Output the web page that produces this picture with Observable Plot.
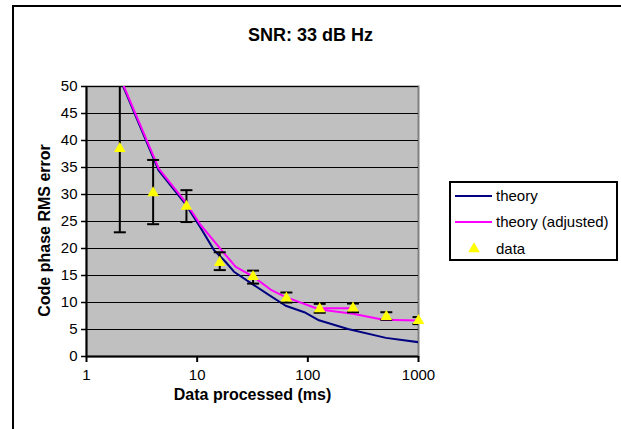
<!DOCTYPE html>
<html><head><meta charset="utf-8">
<script src="https://cdn.jsdelivr.net/npm/d3@7"></script>
<script src="https://cdn.jsdelivr.net/npm/@observablehq/plot@0.6"></script>
<style>
body{margin:0;background:#fff;font-family:"Liberation Sans",Arial,sans-serif;}
#wrap{position:relative;width:621px;height:429px;overflow:hidden;background:#fff;}
#wrap svg.main{position:absolute;left:0;top:0;}
#frame{position:absolute;left:12px;top:5px;width:640px;height:460px;border-top:2px solid #000;border-left:2px solid #000;}
#title{position:absolute;left:0;width:621px;top:25px;text-align:center;font-weight:bold;font-size:18px;color:#000;}
#legend{position:absolute;left:449px;top:181px;}
</style></head>
<body>
<div id="wrap"><div id="frame"></div><div id="title">SNR: 33 dB Hz</div><div id="legend"></div></div>
<script>
// ---- data ----
const dataX    = [2, 4, 8, 16, 32, 64, 128, 256, 512, 1000];
const dataY    = [38.5, 30.3, 27.8, 17.4, 14.8, 10.8, 8.8, 8.95, 7.4, 6.65];
const dataLow  = [23.0, 24.5, 24.9, 16.0, 13.5, 10.0, 8.1, 8.2, 6.8, 6.0];
const dataHigh = [54.0, 36.4, 30.8, 19.3, 15.9, 11.85, 9.75, 9.8, 8.2, 7.3];

const theoryX = [2, 4.5, 7.85, 10.7, 14.2, 18.1, 21.5, 31.6, 43, 63, 93, 126, 230, 508, 1000];
const theoryY = [51.5, 34.4, 28.2, 23.9, 19.7, 17.5, 15.7, 13.4, 11.6, 9.4, 8.2, 6.7, 5.1, 3.45, 2.65];

const adjX = [2, 4.5, 7.85, 10.7, 16.9, 22.3, 31.6, 46, 63, 128, 256, 480, 1000];
const adjY = [51.8, 34.8, 28.6, 24.4, 19.5, 16.6, 14.9, 12.4, 11.0, 8.7, 7.9, 6.8, 6.67];
const adjStepX = [128, 256];
const adjStepY = [8.95, 8.95];

const yTicks = [0, 5, 10, 15, 20, 25, 30, 35, 40, 45, 50];
const xTicks = [1, 10, 100, 1000];

const seriesNames = ["theory", "theory (adjusted)", "data"];
const seriesColors = ["#000080", "#FF00FF", "#FFFF00"];

// ---- tables ----
const points = dataX.map((x, i) => ({x, y: dataY[i], lo: dataLow[i], hi: dataHigh[i]}));
const theory = theoryX.map((x, i) => ({x, y: theoryY[i]}));
const adj = [
  ...adjX.map((x, i) => ({x, y: adjY[i], seg: "a"})),
  ...adjStepX.map((x, i) => ({x, y: adjStepY[i], seg: "b"}))
];

const capSymbol = {draw(ctx) { ctx.moveTo(-6, 0); ctx.lineTo(6, 0); }};

const chart = Plot.plot({
  width: 621, height: 429,
  marginLeft: 86, marginRight: 203, marginTop: 86, marginBottom: 73,
  style: {fontFamily: "'Liberation Sans', Arial, sans-serif", fontSize: "15px", color: "#000", background: "transparent", overflow: "visible"},
  x: {type: "log", domain: [1, 1000]},
  y: {domain: [0, 50]},
  marks: [
    Plot.frame({fill: "#C0C0C0", stroke: "#808080", strokeWidth: 2}),
    Plot.gridY(yTicks, {stroke: "#000", strokeOpacity: 1, strokeWidth: 1}),
    Plot.line(theory, {x: "x", y: "y", stroke: seriesColors[0], strokeWidth: 2, clip: true}),
    Plot.line(adj, {x: "x", y: "y", z: "seg", stroke: seriesColors[1], strokeWidth: 2, clip: true}),
    Plot.ruleX(points, {x: "x", y1: "lo", y2: "hi", stroke: "#000", strokeWidth: 2, clip: true}),
    Plot.dot(points, {x: "x", y: "lo", symbol: capSymbol, stroke: "#000", strokeWidth: 2, clip: true}),
    Plot.dot(points, {x: "x", y: "hi", symbol: capSymbol, stroke: "#000", strokeWidth: 2, clip: true}),
    Plot.dot(points, {x: "x", y: "y", symbol: "triangle", r: 4.3, fill: seriesColors[2], stroke: null}),
    Plot.ruleX([1], {stroke: "#000", strokeWidth: 2}),
    Plot.ruleY([0], {stroke: "#000", strokeWidth: 2}),
    Plot.axisY(yTicks, {tickSize: 5, tickPadding: 4, label: null, stroke: "#000", strokeWidth: 1.5, fill: "#000", fontSize: 15}),
    Plot.axisX(xTicks, {tickSize: 6, tickPadding: 7, label: null, tickFormat: d => String(d), stroke: "#000", strokeWidth: 2, fill: "#000", fontSize: 15}),
    Plot.text(["Data processed (ms)"], {frameAnchor: "bottom", dy: 43, fontWeight: "bold", fontSize: 16, fill: "#000"}),
    Plot.text(["Code phase RMS error"], {frameAnchor: "left", textAnchor: "middle", dx: -42, dy: 9, rotate: -90, fontWeight: "bold", fontSize: 16, fill: "#000"})
  ]
});
chart.classList.add("main");
document.getElementById("wrap").insertBefore(chart, document.getElementById("frame"));

// ---- legend ----
const lg = d3.select("#legend").append("svg").attr("width", 170).attr("height", 80)
  .style("font-family", "'Liberation Sans', Arial, sans-serif").style("font-size", "15px");
lg.append("rect").attr("x", 1).attr("y", 1).attr("width", 167).attr("height", 78)
  .attr("fill", "#fff").attr("stroke", "#000").attr("stroke-width", 2);
const rowsY = [15, 41, 68];
seriesNames.forEach((name, i) => {
  if (i < 2) {
    lg.append("line").attr("x1", 6).attr("x2", 43).attr("y1", rowsY[i]).attr("y2", rowsY[i])
      .attr("stroke", seriesColors[i]).attr("stroke-width", 2);
  } else {
    lg.append("path").attr("d", d3.symbol(d3.symbolTriangle, Math.PI * 4.3 * 4.3)())
      .attr("transform", `translate(25,${rowsY[i]})`).attr("fill", seriesColors[i]);
  }
  lg.append("text").attr("x", 47).attr("y", rowsY[i]).attr("dy", "0.35em").attr("fill", "#000").text(name);
});
</script>
</body></html>
